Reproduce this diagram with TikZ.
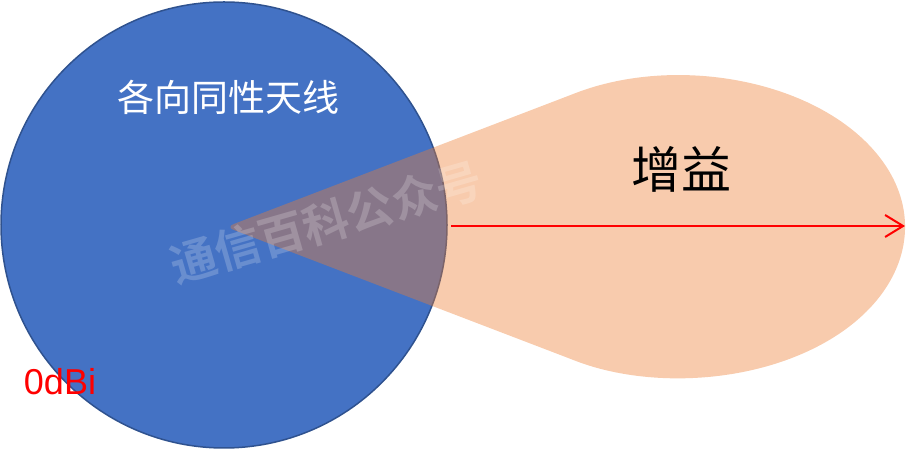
\documentclass[tikz,border=0pt]{standalone}
\usepackage{fontspec}
\setmainfont{Liberation Sans}
\newfontfamily\cjk{Noto Sans CJK SC}
\newfontfamily\cjkb{Noto Sans CJK SC Bold}
\usetikzlibrary{arrows.meta}
\definecolor{bluefill}{HTML}{4472C4}
\definecolor{blueedge}{HTML}{2F528F}
\definecolor{orangefill}{HTML}{ED7D31}
\tikzset{
  iso/.style={circle, draw=blueedge, line width=1.5pt, fill=bluefill, minimum size=446pt, inner sep=0pt},
  lobe/.style={fill=orangefill, fill opacity=0.4, rounded corners=8pt},
  gainarrow/.style={draw=red, line width=2pt, -{Straight Barb[length=18pt,width=22pt,line width=2pt]}},
  wm/.style={text=white, text opacity=0.2, font=\cjkb\fontsize{46}{50}\selectfont, rotate=16, inner sep=0pt}
}
\begin{document}
\begin{tikzpicture}[x=1pt,y=1pt]
\useasboundingbox (0,0) rectangle (907,454);
\node[iso] (circ) at (224,229) {};
\fill[lobe] (226,227) -- (567.5,357.8) arc[start angle=120,end angle=-120,x radius=225pt,y radius=151pt] -- cycle;
\node[text=white, font=\cjk\fontsize{37}{40}\selectfont] (title) at (228,357) {各向同性天线};
\node[wm] (watermark) at (326,232) {通信百科公众号};
\coordinate (arrS) at (451,228);
\coordinate (arrE) at (905,228);
\draw[gainarrow] (arrS) -- (arrE);
\node[font=\cjk\fontsize{50}{54}\selectfont] (gain) at (681,285) {增益};
\node[text=red, font=\fontsize{36}{40}\selectfont] (odbi) at (60,72) {0dBi};
\end{tikzpicture}
\end{document}
